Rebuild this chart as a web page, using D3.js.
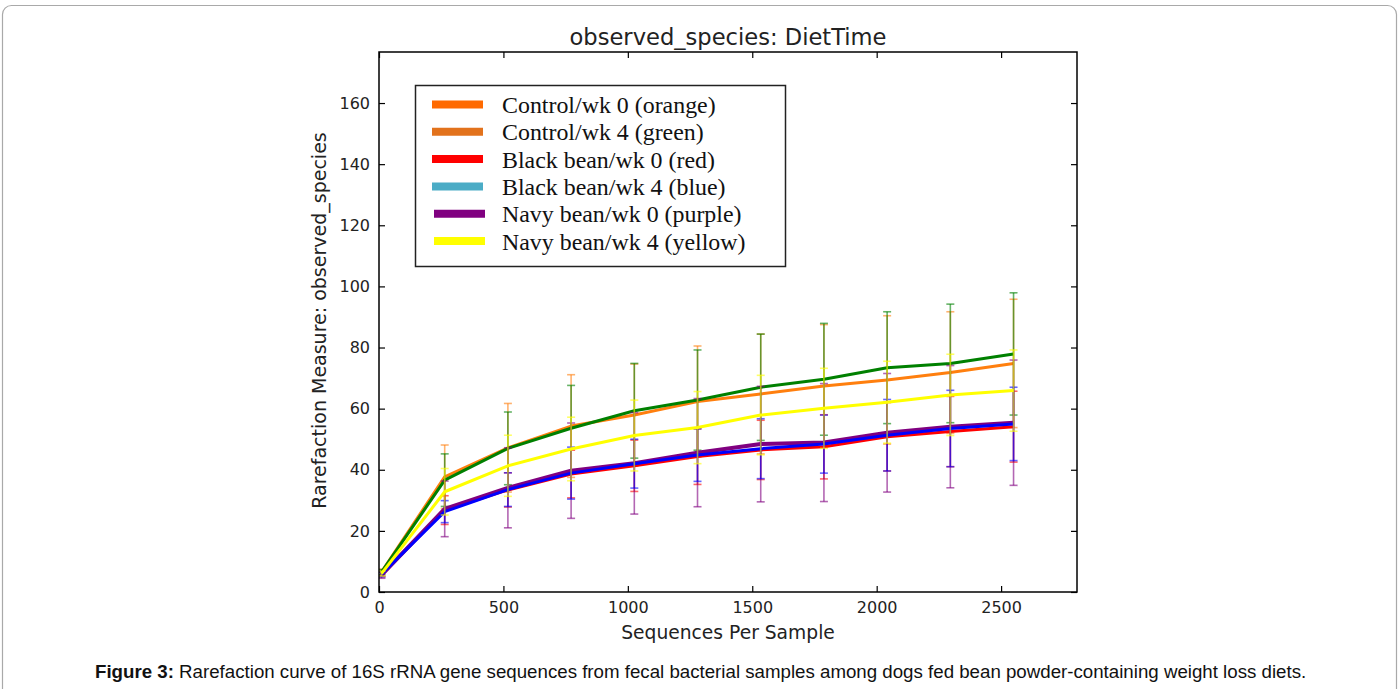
<!DOCTYPE html>
<html><head><meta charset="utf-8">
<script src="https://cdn.jsdelivr.net/npm/d3@7"></script>
<style>body{margin:0;background:#fff;} svg{display:block}</style>
</head><body>
<svg id="c" width="1400" height="689"></svg>
<script>
// ---- data ----
const depths = [10, 264, 518, 772, 1026, 1280, 1534, 1788, 2042, 2296, 2550];
const seriesLabels = ["Control/wk 0 (orange)", "Control/wk 4 (green)", "Black bean/wk 0 (red)",
  "Black bean/wk 4 (blue)", "Navy bean/wk 0 (purple)", "Navy bean/wk 4 (yellow)"];
const lineColors = ["#ff7f0e", "#008000", "#ff0000", "#0000ff", "#800080", "#ffff00"];
const legendColors = ["#ff6a00", "#e2721c", "#ff0000", "#4bacc6", "#800080", "#ffff00"];
const controlWk0Mean = [6.5, 37.7, 47.2, 54.3, 57.9, 62.3, 64.8, 67.4, 69.4, 71.8, 74.8];
const controlWk0Sd   = [1.0, 10.4, 14.5, 16.8, 16.7, 18.2, 19.6, 20.1, 21.0, 19.9, 21.0];
const controlWk4Mean = [6.5, 36.6, 47.0, 53.6, 59.3, 62.8, 67.0, 69.6, 73.4, 74.8, 77.9];
const controlWk4Sd   = [0.8, 8.6, 11.9, 14.0, 15.5, 16.4, 17.4, 18.3, 18.3, 19.4, 20.0];
const blackWk0Mean   = [5.8, 26.8, 33.4, 38.6, 41.3, 44.3, 46.5, 47.5, 50.8, 52.5, 54.1];
const blackWk0Sd     = [0.8, 4.7, 5.6, 7.8, 8.4, 9.1, 9.7, 10.5, 11.2, 11.5, 11.6];
const blackWk4Mean   = [5.8, 26.3, 33.5, 38.9, 42.0, 44.8, 46.9, 48.4, 51.3, 53.5, 55.0];
const blackWk4Sd     = [0.8, 3.6, 5.5, 8.5, 8.0, 8.6, 9.8, 9.5, 11.7, 12.5, 12.0];
const navyWk0Mean    = [5.5, 27.2, 34.1, 39.7, 42.1, 45.6, 48.4, 48.9, 52.1, 54.1, 55.4];
const navyWk0Sd      = [1.0, 9.1, 13.1, 15.6, 16.6, 17.7, 18.9, 19.3, 19.4, 20.0, 20.5];
const navyWk4Mean    = [6.0, 32.8, 41.3, 46.8, 51.2, 53.8, 57.9, 60.1, 62.1, 64.5, 65.9];
const navyWk4Sd      = [0.8, 7.6, 10.0, 10.4, 11.6, 11.8, 13.0, 13.1, 13.4, 13.3, 13.3];
const xTicks = [0, 500, 1000, 1500, 2000, 2500];
const yTicks = [0, 20, 40, 60, 80, 100, 120, 140, 160];
const title = "observed_species: DietTime";
const xLabel = "Sequences Per Sample";
const yLabel = "Rarefaction Measure: observed_species";
const captionBold = "Figure 3:";
const captionText = " Rarefaction curve of 16S rRNA gene sequences from fecal bacterial samples among dogs fed bean powder-containing weight loss diets.";

const means = [controlWk0Mean, controlWk4Mean, blackWk0Mean, blackWk4Mean, navyWk0Mean, navyWk4Mean];
const sds = [controlWk0Sd, controlWk4Sd, blackWk0Sd, blackWk4Sd, navyWk0Sd, navyWk4Sd];
const drawOrder = [0, 1, 2, 4, 3, 5];

// ---- layout ----
const svg = d3.select("#c");
const L = 379, R = 1077, T = 52, B = 592;
const x = d3.scaleLinear().domain([0, 2805]).range([L, R]);
const y = d3.scaleLinear().domain([0, 176.7]).range([B, T]);

// outer figure border
svg.append("rect").attr("x", 2.5).attr("y", 5.5).attr("width", 1394).attr("height", 720)
  .attr("rx", 9).attr("fill", "none").attr("stroke", "#a9a9a9").attr("stroke-width", 1.2);

const plot = svg.append("g");
svg.append("clipPath").attr("id", "pc").append("rect")
  .attr("x", L).attr("y", T).attr("width", R - L).attr("height", B - T);

const line = d3.line().x((d, i) => x(depths[i])).y(d => y(d));
const gData = plot.append("g").attr("clip-path", "url(#pc)");

drawOrder.forEach(si => {
  const g = gData.append("g");
  const col = lineColors[si];
  const eb = g.append("g").attr("stroke", col).attr("stroke-opacity", 0.6).attr("stroke-width", 1.6);
  means[si].forEach((m, i) => {
    const lo = m - sds[si][i], hi = m + sds[si][i];
    const cx = x(depths[i]);
    eb.append("line").attr("x1", cx).attr("x2", cx).attr("y1", y(lo)).attr("y2", y(hi));
    eb.append("line").attr("x1", cx - 4).attr("x2", cx + 4).attr("y1", y(lo)).attr("y2", y(lo));
    eb.append("line").attr("x1", cx - 4).attr("x2", cx + 4).attr("y1", y(hi)).attr("y2", y(hi));
  });
  g.append("path").datum(means[si]).attr("d", line).attr("fill", "none")
    .attr("stroke", col).attr("stroke-width", si === 4 ? 4 : 3).attr("stroke-linejoin", "round");
});

// axes (matplotlib-style frame with inward ticks)
const tickFont = "DejaVu Sans";
const fmt = d3.format("d");
const axB = d3.axisBottom(x).tickValues(xTicks).tickFormat(fmt).tickSizeInner(-6).tickSizeOuter(0).tickPadding(10);
const axT = d3.axisTop(x).tickValues(xTicks).tickSizeInner(-6).tickSizeOuter(0).tickFormat("");
const axLft = d3.axisLeft(y).tickValues(yTicks).tickFormat(fmt).tickSizeInner(-6).tickSizeOuter(0).tickPadding(9);
const axRt = d3.axisRight(y).tickValues(yTicks).tickSizeInner(-6).tickSizeOuter(0).tickFormat("");
function styleAxis(g) {
  g.select(".domain").remove();
  g.selectAll("line").attr("stroke", "#000").attr("stroke-width", 1.2);
  g.selectAll("text").attr("font-family", tickFont).attr("font-size", 16).attr("fill", "#222");
}
svg.append("g").attr("transform", `translate(0,${B})`).call(axB).call(styleAxis);
svg.append("g").attr("transform", `translate(0,${T})`).call(axT).call(styleAxis);
svg.append("g").attr("transform", `translate(${L},0)`).call(axLft).call(styleAxis);
svg.append("g").attr("transform", `translate(${R},0)`).call(axRt).call(styleAxis);
svg.append("rect").attr("x", L).attr("y", T).attr("width", R - L).attr("height", B - T)
  .attr("fill", "none").attr("stroke", "#000").attr("stroke-width", 1.5);

// titles
svg.append("text").attr("x", (L + R) / 2).attr("y", 45).attr("text-anchor", "middle")
  .attr("font-family", tickFont).attr("font-size", 22.6).attr("fill", "#222").text(title);
svg.append("text").attr("x", (L + R) / 2).attr("y", 639).attr("text-anchor", "middle")
  .attr("font-family", tickFont).attr("font-size", 18.7).attr("fill", "#222").text(xLabel);
svg.append("text").attr("transform", `translate(326,320.5) rotate(-90)`).attr("text-anchor", "middle")
  .attr("font-family", tickFont).attr("font-size", 19).attr("fill", "#222").text(yLabel);

// legend
const lg = svg.append("g");
lg.append("rect").attr("x", 415.5).attr("y", 85.5).attr("width", 370).attr("height", 181)
  .attr("fill", "#fff").attr("stroke", "#222").attr("stroke-width", 1.5);
const rowY = [104.5, 131.8, 159.1, 186.4, 213.7, 241];
seriesLabels.forEach((lab, i) => {
  const dx = i >= 4 ? 2 : 0;
  lg.append("line").attr("x1", 432 + dx).attr("x2", 483 + dx).attr("y1", rowY[i]).attr("y2", rowY[i])
    .attr("stroke", legendColors[i]).attr("stroke-width", 8);
  lg.append("text").attr("x", 502).attr("y", rowY[i] + 8.5).attr("font-family", "Liberation Serif")
    .attr("font-size", 23.9).attr("fill", "#111").text(lab);
});

// caption
const cap = svg.append("text").attr("x", 95).attr("y", 678).attr("font-family", "Liberation Sans")
  .attr("font-size", 18.7).attr("fill", "#111");
cap.append("tspan").attr("font-weight", "bold").text(captionBold);
cap.append("tspan").text(captionText);
</script>
</body></html>
